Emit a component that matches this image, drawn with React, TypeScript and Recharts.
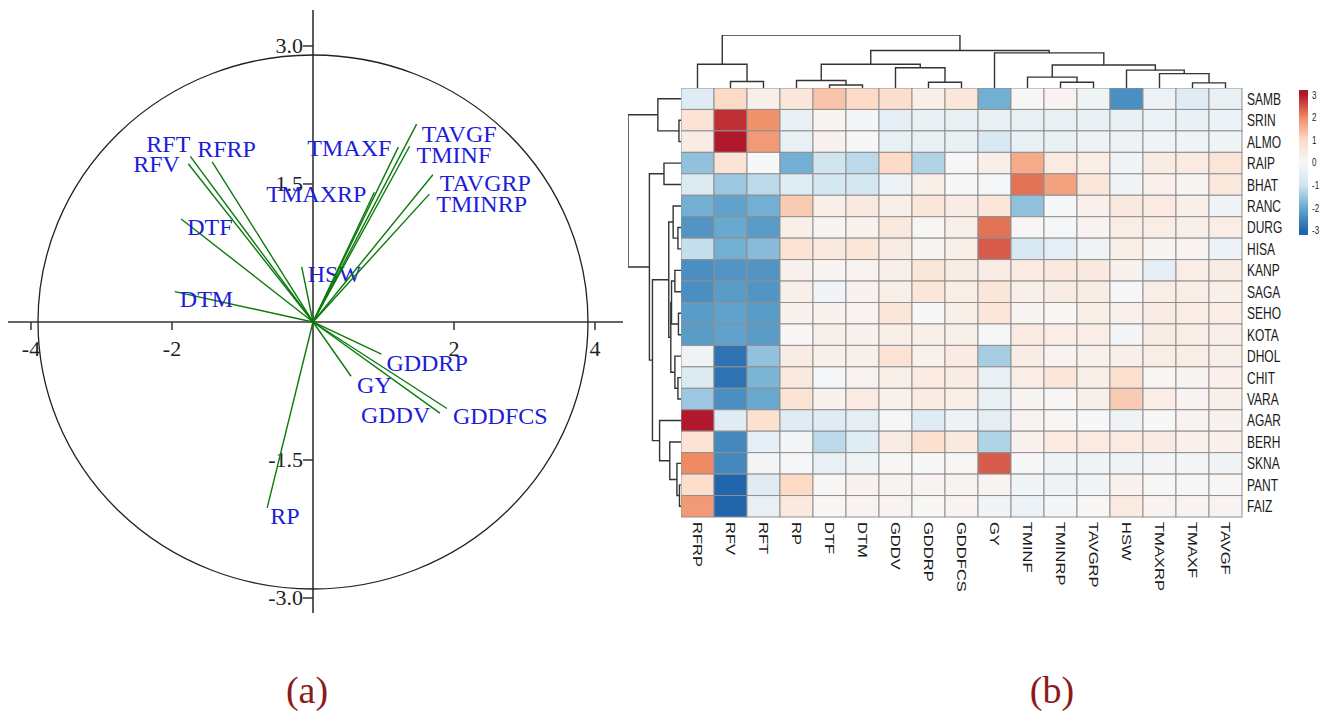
import React from 'react';
import { ScatterChart, Scatter, XAxis, YAxis, ReferenceLine, ReferenceDot, BarChart, Bar } from 'recharts';

// ---- (a) PCA biplot ----
const VARS = ['RFT', 'RFV', 'RFRP', 'DTF', 'DTM', 'HSW', 'TMAXRP', 'TMAXF', 'TMINF', 'TAVGF', 'TAVGRP', 'TMINRP', 'GDDRP', 'GY', 'GDDV', 'GDDFCS', 'RP'];
const PC1 = [-1.74, -1.77, -1.43, -1.87, -1.96, -0.16, 0.87, 1.21, 1.37, 1.47, 1.7, 1.65, 0.97, 0.54, 1.8, 1.9, -0.65];
const PC2 = [1.8, 1.72, 1.74, 1.12, 0.33, 0.6, 1.41, 1.9, 1.91, 2.15, 1.6, 1.39, -0.35, -0.59, -0.99, -0.94, -2.02];
// label placement in px from the arrow tip (left edge of text, vertical centre)
const LABEL_DX = [-44, -55, -15, 6, 5, 6, -108, -91, 7, 5, 7, 7, 5, 6, -79, 6, 3];
const LABEL_DY = [-13, 0, -13, 8, 7, 7, 1, 0, 8, 9, 8, 9, 8, 8, 2, 7, 8];

const X_TICKS = [-4, -2, 2, 4];
const X_TICK_LABELS = ['-4', '-2', '2', '4'];
const Y_TICKS = [3, 1.5, -1.5, -3];
const Y_TICK_LABELS = ['3.0', '1.5', '-1.5', '-3.0'];

// ---- (b) clustered heatmap ----
const ROWS = ['SAMB', 'SRIN', 'ALMO', 'RAIP', 'BHAT', 'RANC', 'DURG', 'HISA', 'KANP', 'SAGA', 'SEHO', 'KOTA', 'DHOL', 'CHIT', 'VARA', 'AGAR', 'BERH', 'SKNA', 'PANT', 'FAIZ'];
const COLS = ['RFRP', 'RFV', 'RFT', 'RP', 'DTF', 'DTM', 'GDDV', 'GDDRP', 'GDDFCS', 'GY', 'TMINF', 'TMINRP', 'TAVGRP', 'HSW', 'TMAXRP', 'TMAXF', 'TAVGF'];
const HEAT: number[][] = [
  [-0.6, 1.0, 0.3, 0.6, 1.3, 1.0, 0.9, 0.3, 0.6, -1.9, 0.05, 0.15, -0.25, -2.4, -0.3, -0.6, -0.4], // SAMB
  [0.7, 2.8, 1.9, -0.4, 0.1, -0.1, -0.5, -0.4, -0.4, -0.4, -0.4, -0.4, -0.35, -0.35, -0.3, -0.35, -0.3], // SRIN
  [0.4, 3.0, 1.8, -0.4, 0.2, 0.0, -0.4, -0.4, -0.35, -0.8, -0.35, -0.35, -0.3, -0.3, -0.2, -0.25, -0.25], // ALMO
  [-1.6, 0.7, 0.0, -1.9, -1.0, -1.2, 1.0, -1.3, -0.05, 0.3, 1.6, 0.45, 0.35, -0.15, 0.4, 0.45, 0.65], // RAIP
  [-0.7, -1.5, -1.2, -0.6, -0.9, -0.9, -0.3, 0.3, 0.0, -0.05, 2.2, 1.7, 0.6, -0.15, 0.25, 0.1, 0.55], // BHAT
  [-1.9, -2.1, -1.9, 1.2, 0.3, 0.5, 0.3, 0.6, 0.4, 0.6, -1.6, -0.05, 0.25, 0.5, 0.45, 0.3, -0.2], // RANC
  [-2.3, -2.0, -2.2, 0.3, 0.1, 0.2, 0.5, 0.05, 0.3, 2.2, 0.05, -0.05, 0.15, 0.35, 0.35, 0.3, 0.35], // DURG
  [-1.1, -1.9, -1.7, 0.7, 0.5, 0.6, 0.4, 0.1, 0.3, 2.4, -0.8, -0.5, -0.2, 0.3, 0.1, 0.15, -0.3], // HISA
  [-2.4, -2.3, -2.3, 0.2, 0.1, 0.15, 0.3, 0.6, 0.4, 0.4, 0.45, 0.5, 0.5, 0.2, -0.5, 0.35, 0.4], // KANP
  [-2.4, -2.2, -2.3, 0.3, -0.15, 0.2, 0.3, 0.6, 0.35, 0.6, 0.3, 0.4, 0.4, -0.05, 0.35, 0.35, 0.3], // SAGA
  [-2.2, -2.1, -2.2, 0.2, 0.2, 0.15, 0.6, 0.0, 0.3, 0.6, 0.1, 0.05, 0.3, 0.25, 0.4, 0.35, 0.35], // SEHO
  [-2.2, -2.1, -2.2, 0.05, 0.3, 0.2, 0.3, 0.3, 0.3, -0.05, 0.45, 0.35, 0.35, -0.1, 0.4, 0.35, 0.3], // KOTA
  [-0.2, -2.8, -1.6, 0.4, 0.3, 0.3, 0.7, 0.25, 0.45, -1.4, 0.4, 0.15, 0.25, 0.3, 0.35, 0.35, 0.3], // DHOL
  [-0.7, -2.8, -1.8, 0.5, -0.05, 0.15, 0.3, 0.45, 0.4, -0.4, 0.35, 0.6, 0.3, 0.8, 0.05, 0.1, 0.25], // CHIT
  [-1.5, -2.4, -2.0, 0.7, 0.2, 0.45, 0.25, 0.45, 0.35, -0.4, 0.1, 0.05, 0.3, 1.2, 0.35, 0.15, 0.3], // VARA
  [3.0, -0.6, 0.8, -0.6, -0.6, -0.5, -0.05, -0.6, -0.3, -0.5, 0.15, 0.05, 0.0, -0.2, 0.0, 0.15, 0.2], // AGAR
  [0.7, -2.5, -0.5, -0.1, -1.2, -0.6, 0.4, 0.8, 0.5, -1.3, 0.2, 0.45, 0.45, 0.45, 0.4, 0.25, 0.25], // BERH
  [2.0, -2.5, -0.1, -0.05, -0.4, -0.25, 0.05, 0.0, 0.05, 2.4, 0.0, -0.15, -0.2, -0.2, -0.1, -0.1, -0.15], // SKNA
  [0.9, -3.0, -0.6, 1.0, 0.05, 0.2, 0.15, 0.15, 0.15, 0.15, -0.15, -0.3, -0.15, 0.2, 0.05, 0.05, 0.05], // PANT
  [1.8, -3.0, -0.4, 0.5, 0.05, 0.15, 0.15, 0.05, 0.15, -0.15, -0.3, -0.1, 0.05, 0.45, 0.15, 0.15, 0.15], // FAIZ
];

// linkage: [childA, childB, height]; leaves are 0..n-1, merges numbered from n
const COL_LINKAGE = [
  [1, 2, 1.22], [0, 17, 4.47], [4, 5, 0.57], [3, 19, 1.41], [7, 8, 1.09], [6, 21, 3.82], [20, 22, 4.47],
  [11, 12, 1.09], [10, 24, 2.06], [15, 16, 0.96], [14, 26, 2.72], [13, 27, 3.37], [25, 28, 4.34],
  [9, 29, 6.62], [23, 30, 7.07], [18, 31, 10],
];
const ROW_LINKAGE = [
  [1, 2, 2], [0, 20, 22.7], [3, 4, 16.7], [6, 7, 3], [5, 23, 7.7], [8, 9, 6], [10, 11, 2.5], [25, 26, 9.3],
  [13, 14, 3], [12, 28, 6], [27, 29, 10], [24, 30, 12], [18, 19, 1.5], [17, 32, 4], [16, 33, 11],
  [15, 34, 21], [31, 35, 28], [22, 36, 31], [21, 37, 52],
];

const LEGEND_TICKS = [3, 2, 1, 0, -1, -2, -3];
const RDBU = ['#2166ac', '#67a9cf', '#d1e5f0', '#f7f7f7', '#fddbc7', '#ef8a62', '#b2182b'];

const STRETCH = 1.38; // panel (b) is vertically stretched in the figure
const CELL_W = 561 / COLS.length;
const CELL_H = 429 / ROWS.length;
const SANS = 'Liberation Sans, Arial, sans-serif';
const SERIF = 'Liberation Serif, Times New Roman, serif';

function hex(c: string) {
  return [1, 3, 5].map((i) => parseInt(c.slice(i, i + 2), 16));
}
function heatColor(v: number) {
  const t = Math.max(-3, Math.min(3, v)) + 3;
  const i = Math.min(5, Math.floor(t));
  const f = t - i;
  const a = hex(RDBU[i]);
  const b = hex(RDBU[i + 1]);
  return `rgb(${a.map((x, k) => Math.round(x + (b[k] - x) * f)).join(',')})`;
}

function dendroSegments(linkage: number[][], nLeaves: number) {
  const pos: number[] = [];
  const hgt: number[] = [];
  for (let i = 0; i < nLeaves; i++) {
    pos.push(i);
    hgt.push(0);
  }
  return linkage.map(([a, b, h]) => {
    const seg = [
      { p: pos[a], h: hgt[a] },
      { p: pos[a], h },
      { p: pos[b], h },
      { p: pos[b], h: hgt[b] },
    ];
    pos.push((pos[a] + pos[b]) / 2);
    hgt.push(h);
    return seg;
  });
}

const vectors = VARS.map((name, i) => ({ name, i, x: PC1[i], y: PC2[i] }));
const cells = HEAT.flatMap((row, r) => row.map((v, c) => ({ c, r, v })));
const colSegs = dendroSegments(COL_LINKAGE, COLS.length).map((s) => s.map((d) => ({ x: d.p, y: d.h })));
const rowSegs = dendroSegments(ROW_LINKAGE, ROWS.length).map((s) => s.map((d) => ({ x: d.h, y: d.p })));

const noDot = () => <g />;

const VectorTip = (props: any) => {
  const { cx, cy, payload } = props;
  if (!payload || !payload.tip) return <g />;
  const i = payload.i;
  return (
    <text x={cx + LABEL_DX[i]} y={cy + LABEL_DY[i]} dy="0.35em" fontSize={24} fontFamily={SERIF} fill="#1c1cd9">
      {VARS[i]}
    </text>
  );
};

const RowTick = (props: any) => {
  const { x, y, payload } = props;
  return (
    <text transform={`translate(${x},${y}) scale(1,${STRETCH})`} dy="0.36em" textAnchor="start" fontSize={12} fontFamily={SANS} fill="#1a1a1a">
      {ROWS[payload.value]}
    </text>
  );
};

const ColTick = (props: any) => {
  const { x, y, payload } = props;
  return (
    <text transform={`translate(${x},${y}) scale(1,${STRETCH}) rotate(90)`} dy="0.36em" textAnchor="start" fontSize={12} fontFamily={SANS} fill="#1a1a1a">
      {COLS[payload.value]}
    </text>
  );
};

const LegendTick = (props: any) => {
  const { x, y, payload } = props;
  return (
    <text transform={`translate(${x},${y}) scale(1,${STRETCH})`} dy="0.36em" textAnchor="start" fontSize={8} fontFamily={SANS} fill="#222">
      {payload.value}
    </text>
  );
};

const HeatCell = (props: any) => {
  const { cx, cy, payload } = props;
  return (
    <rect x={cx - CELL_W / 2} y={cy - CELL_H / 2} width={CELL_W} height={CELL_H} fill={heatColor(payload.v)} stroke="#8f8f8f" strokeWidth={1} />
  );
};

const Biplot = () => (
  <ScatterChart width={615} height={603} margin={{ top: 0, right: 0, bottom: 0, left: 0 }}>
    <XAxis type="number" dataKey="x" domain={[-4.326, 4.397]} hide allowDataOverflow />
    <YAxis type="number" dataKey="y" domain={[-3.163, 3.391]} hide allowDataOverflow />
    <ReferenceLine x={0} stroke="#333" strokeWidth={1.6} />
    <ReferenceLine y={0} stroke="#333" strokeWidth={1.6} />
    <ReferenceDot
      x={0}
      y={0}
      shape={(p: any) => <ellipse cx={p.cx} cy={p.cy} rx={275} ry={267} fill="none" stroke="#222" strokeWidth={1.3} />}
    />
    {X_TICKS.map((t, k) => (
      <ReferenceDot
        key={`xt${k}`}
        x={t}
        y={0}
        shape={(p: any) => (
          <g>
            <line x1={p.cx} y1={p.cy} x2={p.cx} y2={p.cy + 8} stroke="#333" strokeWidth={1.5} />
            <text x={p.cx} y={p.cy + 34} textAnchor="middle" fontSize={22} fontFamily={SERIF} fill="#222">
              {X_TICK_LABELS[k]}
            </text>
          </g>
        )}
      />
    ))}
    {Y_TICKS.map((t, k) => (
      <ReferenceDot
        key={`yt${k}`}
        x={0}
        y={t}
        shape={(p: any) => (
          <g>
            <line x1={p.cx - 10} y1={p.cy} x2={p.cx} y2={p.cy} stroke="#333" strokeWidth={1.5} />
            <text x={p.cx - 10} y={p.cy + 7} textAnchor="end" fontSize={22} fontFamily={SERIF} fill="#222">
              {Y_TICK_LABELS[k]}
            </text>
          </g>
        )}
      />
    ))}
    {vectors.map((v) => (
      <Scatter
        key={v.name}
        data={[{ x: 0, y: 0, i: v.i, tip: false }, { x: v.x, y: v.y, i: v.i, tip: true }]}
        line={{ stroke: '#0b7a0b', strokeWidth: 1.4 }}
        lineType="joint"
        shape={VectorTip}
        isAnimationActive={false}
      />
    ))}
  </ScatterChart>
);

const TopDendrogram = () => (
  <ScatterChart width={561} height={53} margin={{ top: 0, right: 0, bottom: 0, left: 0 }}>
    <XAxis type="number" dataKey="x" domain={[-0.5, 16.5]} hide />
    <YAxis type="number" dataKey="y" domain={[0, 10]} hide />
    {colSegs.map((seg, k) => (
      <Scatter key={k} data={seg} line={{ stroke: '#333', strokeWidth: 1.4 }} lineType="joint" shape={noDot} isAnimationActive={false} />
    ))}
  </ScatterChart>
);

const LeftDendrogram = () => (
  <ScatterChart width={53} height={429} margin={{ top: 0, right: 0, bottom: 0, left: 0 }}>
    <XAxis type="number" dataKey="x" domain={[0, 52]} reversed hide />
    <YAxis type="number" dataKey="y" domain={[-0.5, 19.5]} reversed hide />
    {rowSegs.map((seg, k) => (
      <Scatter key={k} data={seg} line={{ stroke: '#333', strokeWidth: 1.4 }} lineType="joint" shape={noDot} isAnimationActive={false} />
    ))}
  </ScatterChart>
);

const Heatmap = () => (
  <ScatterChart width={621} height={509} margin={{ top: 0, right: 0, bottom: 0, left: 0 }}>
    <XAxis
      type="number"
      dataKey="c"
      domain={[-0.5, 16.5]}
      ticks={COLS.map((_, i) => i)}
      interval={0}
      tick={ColTick}
      tickLine={false}
      axisLine={false}
      tickSize={0}
      tickMargin={5}
      height={80}
    />
    <YAxis
      type="number"
      dataKey="r"
      domain={[-0.5, 19.5]}
      reversed
      orientation="right"
      ticks={ROWS.map((_, i) => i)}
      interval={0}
      tick={RowTick}
      tickLine={false}
      axisLine={false}
      tickSize={0}
      tickMargin={5}
      width={60}
    />
    <Scatter data={cells} shape={HeatCell} isAnimationActive={false} />
  </ScatterChart>
);

const ColorBar = () => (
  <BarChart width={34} height={157} data={[{ k: 'scale', v: [-3.2, 3.2] }]} margin={{ top: 6, right: 0, bottom: 6, left: 0 }} barCategoryGap={0}>
    <defs>
      <linearGradient id="cbar" x1="0" y1="0" x2="0" y2="1">
        {RDBU.slice()
          .reverse()
          .map((c, i) => (
            <stop key={c} offset={`${((0.2 + i) / 6.4) * 100}%`} stopColor={c} />
          ))}
      </linearGradient>
    </defs>
    <XAxis dataKey="k" hide />
    <YAxis
      orientation="right"
      type="number"
      domain={[-3.2, 3.2]}
      ticks={LEGEND_TICKS}
      interval={0}
      tick={LegendTick}
      tickLine={false}
      axisLine={false}
      tickSize={0}
      tickMargin={4}
      width={25}
    />
    <Bar dataKey="v" fill="url(#cbar)" isAnimationActive={false} />
  </BarChart>
);

export default function App() {
  return (
    <div style={{ position: 'absolute', left: 0, top: 0, width: 1333, height: 721, background: '#fff', overflow: 'hidden' }}>
      <div style={{ position: 'absolute', left: 8, top: 10 }}>
        <Biplot />
      </div>
      <div style={{ position: 'absolute', left: 681, top: 35 }}>
        <TopDendrogram />
      </div>
      <div style={{ position: 'absolute', left: 628, top: 88 }}>
        <LeftDendrogram />
      </div>
      <div style={{ position: 'absolute', left: 681, top: 88 }}>
        <Heatmap />
      </div>
      <div style={{ position: 'absolute', left: 1299, top: 84 }}>
        <ColorBar />
      </div>
      <svg width={1333} height={721} style={{ position: 'absolute', left: 0, top: 0, pointerEvents: 'none' }}>
        <text x={307} y={703} textAnchor="middle" fontSize={38} fontFamily={SERIF} fill="#8b1a1a">
          (a)
        </text>
        <text x={1052} y={703} textAnchor="middle" fontSize={38} fontFamily={SERIF} fill="#8b1a1a">
          (b)
        </text>
      </svg>
    </div>
  );
}
